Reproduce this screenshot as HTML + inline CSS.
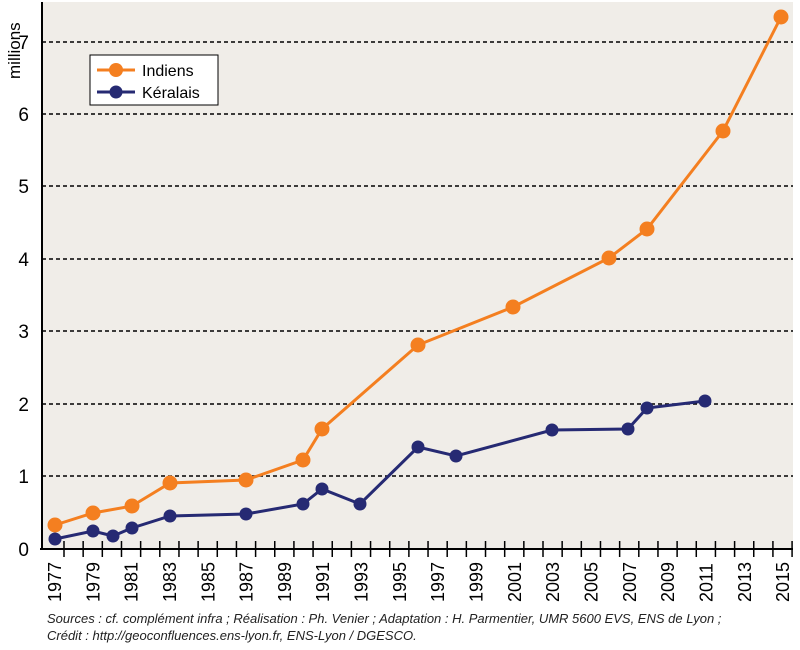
<!DOCTYPE html>
<html><head><meta charset="utf-8"><style>
body{margin:0;background:#fff;width:800px;height:645px;overflow:hidden;font-family:"Liberation Sans",sans-serif}
</style></head><body>
<svg width="800" height="645" xmlns="http://www.w3.org/2000/svg" font-family="Liberation Sans, sans-serif">
<rect x="42" y="2" width="751" height="547" fill="#f0ede8"/>
<g stroke="#000" stroke-width="1.5" stroke-dasharray="4,3">
<line x1="42" y1="476" x2="793" y2="476"/><line x1="42" y1="404" x2="793" y2="404"/>
<line x1="42" y1="331" x2="793" y2="331"/><line x1="42" y1="259" x2="793" y2="259"/>
<line x1="42" y1="186" x2="793" y2="186"/><line x1="42" y1="114" x2="793" y2="114"/>
<line x1="42" y1="42" x2="793" y2="42"/>
</g>
<line x1="42" y1="2" x2="42" y2="550" stroke="#000" stroke-width="2"/>
<line x1="40" y1="549" x2="793" y2="549" stroke="#000" stroke-width="2"/>
<g stroke="#000" stroke-width="1.5" id="ticks"></g>
<g font-size="19" text-anchor="end">
<text x="29" y="556">0</text><text x="29" y="483">1</text><text x="29" y="411">2</text>
<text x="29" y="338">3</text><text x="29" y="266">4</text><text x="29" y="193">5</text>
<text x="29" y="121">6</text><text x="29" y="49">7</text>
</g>
<text transform="translate(20,79) rotate(-90)" font-size="17">millions</text>
<g font-size="18" id="xl"></g>
<polyline fill="none" stroke="#f47f20" stroke-width="3" points="55,525 93,513 132,506 170,483 246,480 303,460 322,429 418,345 513,307 609,258 647,229 723,131 781,17"/>
<g fill="#f47f20">
<circle cx="55" cy="525" r="7.5"/><circle cx="93" cy="513" r="7.5"/><circle cx="132" cy="506" r="7.5"/><circle cx="170" cy="483" r="7.5"/><circle cx="246" cy="480" r="7.5"/><circle cx="303" cy="460" r="7.5"/><circle cx="322" cy="429" r="7.5"/><circle cx="418" cy="345" r="7.5"/><circle cx="513" cy="307" r="7.5"/><circle cx="609" cy="258" r="7.5"/><circle cx="647" cy="229" r="7.5"/><circle cx="723" cy="131" r="7.5"/><circle cx="781" cy="17" r="7.5"/>
</g>
<polyline fill="none" stroke="#262a73" stroke-width="3" points="55,539 93,531 113,536 132,528 170,516 246,514 303,504 322,489 360,504 418,447 456,456 552,430 628,429 647,408 705,401"/>
<g fill="#262a73">
<circle cx="55" cy="539" r="6.5"/><circle cx="93" cy="531" r="6.5"/><circle cx="113" cy="536" r="6.5"/><circle cx="132" cy="528" r="6.5"/><circle cx="170" cy="516" r="6.5"/><circle cx="246" cy="514" r="6.5"/><circle cx="303" cy="504" r="6.5"/><circle cx="322" cy="489" r="6.5"/><circle cx="360" cy="504" r="6.5"/><circle cx="418" cy="447" r="6.5"/><circle cx="456" cy="456" r="6.5"/><circle cx="552" cy="430" r="6.5"/><circle cx="628" cy="429" r="6.5"/><circle cx="647" cy="408" r="6.5"/><circle cx="705" cy="401" r="6.5"/>
</g>
<rect x="90" y="55" width="128" height="50" fill="#fff" stroke="#000" stroke-width="1"/>
<line x1="97" y1="70" x2="135" y2="70" stroke="#f47f20" stroke-width="3"/><circle cx="116" cy="70" r="7" fill="#f47f20"/>
<text x="142" y="76" font-size="16">Indiens</text>
<line x1="97" y1="92" x2="135" y2="92" stroke="#262a73" stroke-width="3"/><circle cx="116" cy="92" r="6.5" fill="#262a73"/>
<text x="142" y="98" font-size="16">Kéralais</text>
<g font-size="13" font-style="italic" fill="#222">
<text x="47" y="623">Sources :  cf. complément infra ; Réalisation : Ph. Venier ; Adaptation : H. Parmentier, UMR 5600 EVS, ENS de Lyon ;</text>
<text x="47" y="640">Crédit : http://geoconfluences.ens-lyon.fr, ENS-Lyon / DGESCO.</text>
</g>
<script>
var t=document.getElementById('ticks'),xl=document.getElementById('xl'),ns='http://www.w3.org/2000/svg';
for(var i=0;i<39;i++){var x=64+i*19.16;var l=document.createElementNS(ns,'line');l.setAttribute('x1',x);l.setAttribute('x2',x);l.setAttribute('y1',541);l.setAttribute('y2',557);t.appendChild(l);}
for(var y=1977;y<=2015;y+=2){var x=55+(y-1977)*19.16;var e=document.createElementNS(ns,'text');e.setAttribute('transform','translate('+(x+6)+',602) rotate(-90)');e.textContent=y;xl.appendChild(e);}
</script>
</svg>
</body></html>
